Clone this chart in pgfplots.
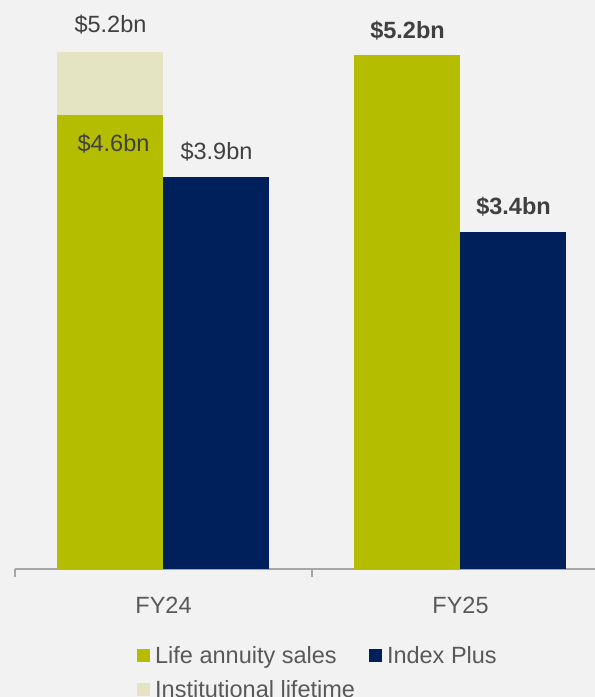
\documentclass[border=0pt]{standalone}
\usepackage{fontspec}
\setmainfont{Liberation Sans}
\usepackage{pgfplots}
\pgfplotsset{compat=1.18}
\definecolor{bgc}{HTML}{F2F2F2}
\definecolor{lifec}{HTML}{B5BD00}
\definecolor{idxc}{HTML}{00205B}
\definecolor{instc}{HTML}{E5E4C2}
\definecolor{lblc}{HTML}{404040}
\definecolor{axtxt}{HTML}{595959}
\definecolor{axln}{HTML}{A6A6A6}
\newcommand\lf{\fontsize{23.5bp}{28bp}\selectfont}
\begin{document}
\begin{tikzpicture}
\useasboundingbox (0,0) rectangle (595bp,697bp);
\fill[bgc] (0,0) rectangle (595bp,697bp);
\clip (0,0) rectangle (595bp,697bp);
\begin{axis}[
  at={(15bp,128bp)}, anchor=south west,
  scale only axis, width=580bp, height=553.3bp,
  xmin=-0.5, xmax=1.4529, ymin=0, ymax=5.6,
  axis x line*=bottom, axis y line=none,
  x axis line style={axln, line width=2bp},
  xtick={0,1}, xticklabels={FY24,FY25},
  major tick length=0pt,
  xticklabel style={font=\lf, text=axtxt, inner sep=0pt, anchor=north, yshift=-28bp},
  extra x ticks={-0.5,0.5}, extra x tick labels={},
  extra x tick style={major tick length=8bp, tick align=outside, tick style={axln, line width=2bp}},
  ybar, bar width=106bp,
  nodes near coords style={font=\lf, text=lblc, anchor=center},
  legend columns=2,
  legend cell align=left,
  legend image code/.code={\fill[#1] (0bp,-6.5bp) rectangle (13bp,6.5bp); \path (18bp,0bp);},
  legend style={at={(axis description cs:0.2103,-0.140)}, anchor=north west,
    draw=none, fill=none, inner sep=0pt, font=\lf, text=axtxt,
    nodes={inner sep=0pt},
    /tikz/every even column/.append style={column sep=14bp},
    /tikz/row sep=15bp},
]
% Institutional lifetime (stacked on top of FY24 life annuity, total shown)
\addplot[fill=instc, draw=none, bar shift=-53bp, forget plot,
  nodes near coords={\$5.2bn}, nodes near coords style={yshift=28bp}]
  coordinates {(0,5.23)};
% Life annuity sales
\addplot[fill=lifec, draw=none, bar shift=-53bp, forget plot,
  nodes near coords={\$4.6bn}, nodes near coords style={yshift=-29bp, xshift=3bp}]
  coordinates {(0,4.6)};
\addplot[fill=lifec, draw=none, bar shift=-53bp, forget plot,
  nodes near coords={\textbf{\$5.2bn}}, nodes near coords style={yshift=25bp}]
  coordinates {(1,5.2)};
% Index Plus
\addplot[fill=idxc, draw=none, bar shift=53bp, forget plot,
  nodes near coords={\$3.9bn}, nodes near coords style={yshift=25bp}]
  coordinates {(0,3.97)};
\addplot[fill=idxc, draw=none, bar shift=53bp, forget plot,
  nodes near coords={\textbf{\$3.4bn}}, nodes near coords style={yshift=25bp}]
  coordinates {(1,3.41)};
\addlegendimage{fill=lifec, draw=none}
\addlegendentry{Life annuity sales}
\addlegendimage{fill=idxc, draw=none}
\addlegendentry{Index Plus}
\addlegendimage{fill=instc, draw=none}
\addlegendentry{Institutional lifetime}
\end{axis}
\end{tikzpicture}
\end{document}
